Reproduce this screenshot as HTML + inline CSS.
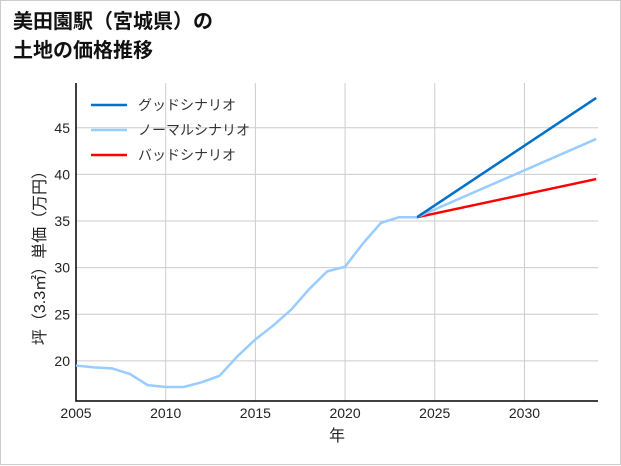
<!DOCTYPE html>
<html><head><meta charset="utf-8"><style>
body{margin:0;background:#fff;}
#wrap{position:relative;width:619px;height:463px;border:1px solid #ccc;background:#fff;font-family:"Liberation Sans","Noto Sans CJK JP",sans-serif;}
#title{position:absolute;left:12px;top:7px;font-size:20px;font-weight:bold;line-height:29px;color:#111;}
svg{position:absolute;left:0;top:0;}
text{font-family:"Liberation Sans","Noto Sans CJK JP",sans-serif;}
</style></head><body>
<div id="wrap">
<div id="title">美田園駅（宮城県）の<br>土地の価格推移</div>
<svg id="chart" width="621" height="465"></svg>
</div>
<script>
const years=[2005,2006,2007,2008,2009,2010,2011,2012,2013,2014,2015,2016,2017,2018,2019,2020,2021,2022,2023,2024];
const histValues=[19.5,19.3,19.2,18.6,17.4,17.2,17.2,17.7,18.4,20.5,22.3,23.8,25.5,27.7,29.6,30.1,32.6,34.8,35.4,35.4];
const projYears=[2024,2034];
const goodValues=[35.4,48.2];
const normalValues=[35.4,43.8];
const badValues=[35.4,39.5];
const xTicks=[2005,2010,2015,2020,2025,2030];
const yTicks=[20,25,30,35,40,45];
const legendLabels=["グッドシナリオ","ノーマルシナリオ","バッドシナリオ"];
const legendColors=["#0070c8","#99ccff","#ff0000"];

const L=75,R=597,T=82,B=400,xmin=2005,xmax=2034.1,ymin=15.7,ymax=49.8;
const X=v=>L+(v-xmin)/(xmax-xmin)*(R-L);
const Y=v=>B-(v-ymin)/(ymax-ymin)*(B-T);
const svg=document.getElementById('chart');
const NS='http://www.w3.org/2000/svg';
function mk(tag,attrs,parent){const e=document.createElementNS(NS,tag);for(const k in attrs)e.setAttribute(k,attrs[k]);(parent||svg).appendChild(e);return e;}

xTicks.forEach(t=>{
 const g=mk('line',{x1:X(t),x2:X(t),y1:T,y2:B,stroke:'#ccc','stroke-width':1});
 
 
 const tx=mk('text',{x:X(t),y:B+17,'text-anchor':'middle','font-size':14,fill:'#222'});tx.textContent=t;
 
 
});
yTicks.forEach(t=>{
 const g=mk('line',{x1:L,x2:R,y1:Y(t),y2:Y(t),stroke:'#ccc','stroke-width':1});
 
 
 const tx=mk('text',{x:L-6,y:Y(t)+5,'text-anchor':'end','font-size':14,fill:'#222'});tx.textContent=t;
 
 
});
const ax=mk('path',{d:`M${L},${T} V${B} H${R}`,stroke:'#000','stroke-width':1.5,fill:'none'});



function line(xs,vs,color,name){
 const p=mk('polyline',{points:xs.map((x,i)=>X(x)+','+Y(vs[i])).join(' '),fill:'none',stroke:color,'stroke-width':2.5});
 
 
}
line(projYears,badValues,legendColors[2],'bad-scenario-line');
line(projYears,normalValues,legendColors[1],'normal-scenario-line');
line(projYears,goodValues,legendColors[0],'good-scenario-line');
line(years,histValues,legendColors[1],'historical-price-line');

legendLabels.forEach((lb,i)=>{
 const y=104+i*25;
 const l=mk('line',{x1:90,x2:126,y1:y,y2:y,stroke:legendColors[i],'stroke-width':2.5});
 
 
 const t=mk('text',{x:137,y:y+5,'font-size':14,fill:'#333'});t.textContent=lb;
 
 
});
const xt=mk('text',{x:(L+R)/2,y:B+40,'text-anchor':'middle','font-size':16,fill:'#222'});xt.textContent='年';


const yt=mk('text',{x:0,y:0,'text-anchor':'middle','font-size':16,fill:'#222',transform:`translate(44,${(T+B)/2+12}) rotate(-90)`});yt.textContent='坪（3.3㎡）単価（万円）';


</script>
</body></html>
